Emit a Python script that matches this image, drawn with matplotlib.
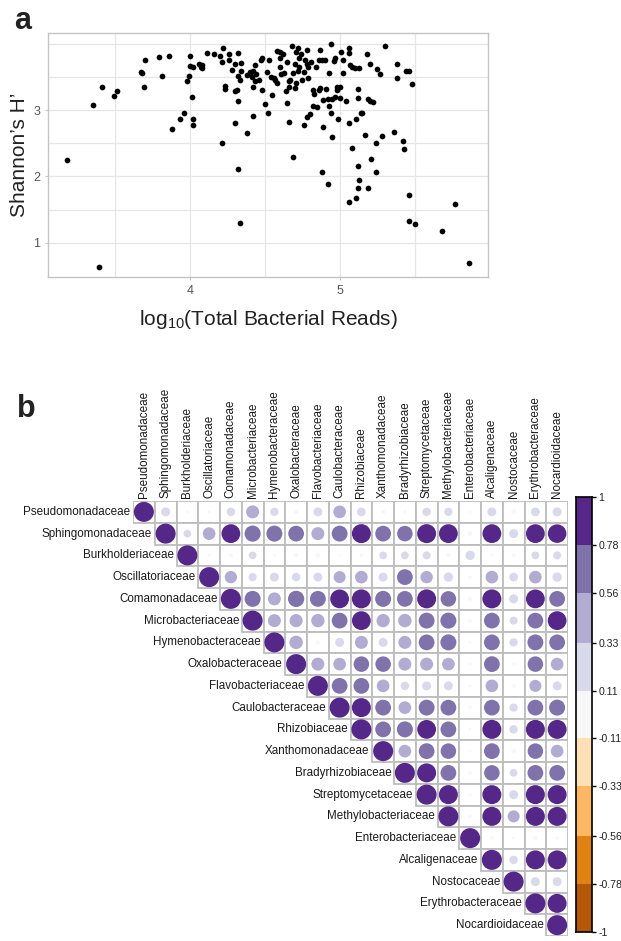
import numpy as np
import matplotlib
matplotlib.use("Agg")
import matplotlib.pyplot as plt
from matplotlib.patches import Circle, Rectangle
from matplotlib.colors import ListedColormap, BoundaryNorm

plt.rcParams['font.family'] = ['Liberation Sans', 'DejaVu Sans']
plt.rcParams['mathtext.default'] = 'regular'

FIG_W, FIG_H = 621, 941

# panel a: shannon diversity vs sequencing depth
LOG_READS = [
    3.18, 3.39, 3.35, 3.41, 3.49, 3.51, 3.67, 3.68, 3.70, 3.69, 3.79, 3.81, 3.86, 3.88,
    3.93, 3.96, 3.98, 3.99, 4.00, 4.00, 4.01, 4.02, 4.02, 4.02, 4.06, 4.07, 4.08, 4.08,
    4.11, 4.16, 4.20, 4.21, 4.22, 4.23, 4.23, 4.21, 4.26, 4.26, 4.28, 4.30, 4.30, 4.31,
    4.30, 4.32, 4.32, 4.32, 4.33, 4.32, 4.34, 4.34, 4.33, 4.38, 4.38, 4.40, 4.40, 4.42,
    4.41, 4.42, 4.42, 4.43, 4.43, 4.44, 4.46, 4.47, 4.48, 4.48, 4.50, 4.51, 4.52, 4.53,
    4.54, 4.55, 4.56, 4.57, 4.58, 4.58, 4.60, 4.60, 4.60, 4.61, 4.62, 4.63, 4.64, 4.65,
    4.65, 4.66, 4.66, 4.66, 4.67, 4.68, 4.69, 4.69, 4.70, 4.70, 4.71, 4.71, 4.72, 4.72,
    4.73, 4.73, 4.74, 4.75, 4.76, 4.76, 4.77, 4.78, 4.78, 4.78, 4.79, 4.79, 4.80, 4.81,
    4.82, 4.82, 4.83, 4.84, 4.85, 4.86, 4.86, 4.87, 4.87, 4.88, 4.88, 4.89, 4.89, 4.90,
    4.91, 4.92, 4.92, 4.93, 4.93, 4.94, 4.94, 4.95, 4.95, 4.96, 4.97, 4.97, 4.98, 4.98,
    4.99, 5.00, 5.00, 5.01, 5.02, 5.02, 5.04, 5.06, 5.06, 5.06, 5.06, 5.07, 5.08, 5.08,
    5.10, 5.11, 5.11, 5.12, 5.12, 5.12, 5.12, 5.13, 5.13, 5.14, 5.15, 5.17, 5.18, 5.19,
    5.19, 5.20, 5.20, 5.21, 5.22, 5.24, 5.24, 5.25, 5.27, 5.28, 5.30, 5.36, 5.38, 5.38,
    5.42, 5.43, 5.44, 5.46, 5.46, 5.46, 5.48, 5.50, 5.68, 5.77, 5.86,
]
SHANNON = [
    2.25, 0.63, 3.07, 3.35, 3.21, 3.29, 3.58, 3.56, 3.75, 3.34, 3.80, 3.51, 3.82, 2.72,
    2.86, 2.96, 3.44, 3.51, 3.67, 3.81, 3.20, 2.87, 2.78, 3.65, 3.69, 3.65, 3.63, 3.68,
    3.86, 3.85, 3.82, 3.72, 3.93, 3.31, 3.36, 2.50, 3.85, 3.75, 3.60, 3.70, 3.29, 3.30,
    2.81, 3.86, 3.14, 2.11, 1.29, 3.51, 3.71, 3.59, 3.46, 2.66, 3.53, 3.58, 3.54, 3.59,
    3.50, 3.35, 2.91, 3.44, 3.68, 3.54, 3.45, 3.76, 3.30, 3.79, 3.09, 3.58, 2.95, 3.76,
    3.50, 3.23, 3.49, 3.45, 3.89, 3.40, 3.78, 3.88, 3.65, 3.54, 3.85, 3.56, 3.29, 3.11,
    3.72, 3.43, 2.82, 3.34, 3.46, 3.96, 3.56, 2.29, 3.33, 3.70, 3.40, 3.88, 3.59, 3.93,
    3.65, 3.78, 3.85, 3.45, 3.58, 2.77, 3.75, 3.70, 3.90, 2.90, 3.49, 3.65, 2.94, 3.73,
    3.30, 3.06, 3.24, 3.65, 3.04, 3.30, 3.76, 3.90, 3.33, 3.76, 2.06, 3.15, 2.75, 3.75,
    3.31, 1.88, 3.16, 3.06, 3.56, 3.99, 2.95, 3.16, 2.60, 3.74, 3.19, 3.79, 3.30, 3.34,
    2.87, 3.35, 3.18, 3.88, 3.75, 3.56, 3.14, 2.80, 3.93, 3.86, 1.62, 3.68, 2.42, 3.65,
    3.63, 2.87, 1.67, 2.16, 3.31, 3.18, 1.83, 1.95, 3.63, 2.96, 2.96, 2.63, 3.85, 3.16,
    1.82, 3.70, 3.13, 2.26, 3.12, 2.51, 2.07, 3.62, 3.55, 2.61, 3.96, 2.67, 3.69, 3.49,
    2.54, 2.41, 3.59, 3.59, 1.72, 1.33, 3.39, 1.28, 1.18, 1.58, 0.70,
]

# panel b: correlation between bacterial families
FAMILIES = [
    "Pseudomonadaceae", "Sphingomonadaceae", "Burkholderiaceae", "Oscillatoriaceae",
    "Comamonadaceae", "Microbacteriaceae", "Hymenobacteraceae", "Oxalobacteraceae",
    "Flavobacteriaceae", "Caulobacteraceae", "Rhizobiaceae", "Xanthomonadaceae",
    "Bradyrhizobiaceae", "Streptomycetaceae", "Methylobacteriaceae", "Enterobacteriaceae",
    "Alcaligenaceae", "Nostocaceae", "Erythrobacteraceae", "Nocardioidaceae",
]
# upper triangle, row i holds the values for columns i+1 .. end
CORR_UPPER = [
    [0.20, 0.02, 0.03, 0.18, 0.42, 0.17, 0.05, 0.20, 0.40, 0.19, 0.04, 0.02, 0.18, 0.17, 0.01, 0.20, 0.06, 0.19, 0.20],
    [0.15, 0.40, 0.88, 0.65, 0.64, 0.62, 0.42, 0.63, 0.90, 0.62, 0.60, 0.90, 0.88, 0.05, 0.88, 0.20, 0.88, 0.86],
    [0.03, 0.04, 0.15, 0.02, 0.05, 0.06, 0.01, 0.03, 0.15, 0.15, 0.16, 0.05, 0.22, 0.02, 0.04, 0.15, 0.16],
    [0.38, 0.17, 0.20, 0.18, 0.20, 0.36, 0.40, 0.20, 0.62, 0.38, 0.22, 0.03, 0.40, 0.19, 0.40, 0.22],
    [0.64, 0.42, 0.66, 0.63, 0.88, 0.90, 0.64, 0.62, 0.90, 0.60, 0.04, 0.90, 0.20, 0.88, 0.62],
    [0.42, 0.43, 0.44, 0.62, 0.88, 0.44, 0.45, 0.63, 0.64, 0.03, 0.62, 0.16, 0.62, 0.88],
    [0.45, 0.04, 0.20, 0.42, 0.20, 0.42, 0.62, 0.64, 0.02, 0.62, 0.17, 0.63, 0.62],
    [0.42, 0.40, 0.60, 0.60, 0.42, 0.42, 0.40, 0.03, 0.62, 0.05, 0.60, 0.40],
    [0.62, 0.62, 0.40, 0.18, 0.20, 0.20, 0.02, 0.40, 0.04, 0.36, 0.20],
    [0.90, 0.62, 0.40, 0.63, 0.62, 0.03, 0.62, 0.17, 0.62, 0.64],
    [0.62, 0.64, 0.88, 0.62, 0.02, 0.90, 0.18, 0.90, 0.90],
    [0.40, 0.62, 0.60, 0.01, 0.62, 0.05, 0.60, 0.40],
    [0.90, 0.62, 0.03, 0.60, 0.15, 0.62, 0.62],
    [0.90, 0.02, 0.90, 0.20, 0.90, 0.90],
    [0.03, 0.90, 0.36, 0.90, 0.90],
    [0.04, 0.02, 0.05, 0.03],
    [0.18, 0.90, 0.90],
    [0.20, 0.20],
    [0.90],
    [],
]
BIN_EDGES = [-1, -0.78, -0.56, -0.33, -0.11, 0.11, 0.33, 0.56, 0.78, 1]
BIN_COLORS = ["#B35806", "#E08214", "#FDB863", "#FEE0B6", "#F7F7F7",
              "#D8DAEB", "#B2ABD2", "#8073AC", "#542788"]
CBAR_LABELS = ["-1", "-0.78", "-0.56", "-0.33", "-0.11",
               "0.11", "0.33", "0.56", "0.78", "1"]


def px_box(left, top, right, bottom):
    # pixel box -> figure fraction [l, b, w, h]
    return [left / FIG_W, 1 - bottom / FIG_H, (right - left) / FIG_W, (bottom - top) / FIG_H]


fig = plt.figure(figsize=(FIG_W / 100, FIG_H / 100), dpi=100)

# ---- panel a
ax = fig.add_axes(px_box(48, 33, 488, 277))
ax.scatter(LOG_READS, SHANNON, s=17, c="black", linewidths=0, zorder=3)
ax.set_xlim(3.053, 5.987)
ax.set_ylim(0.483, 4.161)
ax.set_xticks([4, 5])
ax.set_xticks([3.5, 4.5, 5.5], minor=True)
ax.set_yticks([1, 2, 3])
ax.set_yticks([1.5, 2.5, 3.5, 4.0], minor=True)
ax.grid(True, which="both", color="#E6E6E6", linewidth=0.9, zorder=0)
ax.set_axisbelow(True)
for s in ax.spines.values():
    s.set_color("#C4C4C4")
    s.set_linewidth(1.0)
ax.tick_params(which="major", length=2.5, color="#C4C4C4", labelsize=9, labelcolor="#555555", pad=3)
ax.tick_params(which="minor", length=0)
ax.set_xlabel(r"log$_{10}$(Total Bacterial Reads)", fontsize=15, color="#222222", labelpad=8)
ax.set_ylabel("Shannon\u2019s H\u2019", fontsize=15, color="#222222", labelpad=3)

fig.text(14 / FIG_W, 1 - 29 / FIG_H, "a", fontsize=22, fontweight="bold", color="#222222")
fig.text(17 / FIG_W, 1 - 417 / FIG_H, "b", fontsize=22, fontweight="bold", color="#222222")

# ---- panel b
n = len(FAMILIES)
corr = np.eye(n)
for i, row in enumerate(CORR_UPPER):
    corr[i, i + 1:] = row

cmap = ListedColormap(BIN_COLORS)
norm = BoundaryNorm(BIN_EDGES, cmap.N)

axc = fig.add_axes(px_box(133, 501, 568, 936))
axc.set_xlim(-0.5, n - 0.5)
axc.set_ylim(n - 0.5, -0.5)
axc.set_aspect("equal")
axc.axis("off")

for i in range(n):
    for j in range(i, n):
        axc.add_patch(Rectangle((j - 0.5, i - 0.5), 1, 1, facecolor="white",
                                edgecolor="#BDBDBD", linewidth=1.3, zorder=1))
        r = corr[i, j]
        axc.add_patch(Circle((j, i), 0.46 * np.sqrt(abs(r)), facecolor=cmap(norm(r)),
                             edgecolor="none", zorder=2))

for k, name in enumerate(FAMILIES):
    axc.text(k - 0.62, k, name, ha="right", va="center", fontsize=8.4, color="#1A1A1A")
    axc.text(k, -0.62, name, ha="center", va="bottom", rotation=90, fontsize=8.4, color="#1A1A1A")

# colour key
axk = fig.add_axes(px_box(576, 497, 592, 932))
axk.pcolormesh([0, 1], BIN_EDGES, np.array(BIN_EDGES[:-1]).reshape(-1, 1) + 0.01,
               cmap=cmap, norm=norm, shading="flat")
axk.set_xlim(0, 1)
axk.set_ylim(-1, 1)
axk.set_xticks([])
axk.yaxis.tick_right()
axk.set_yticks(BIN_EDGES)
axk.set_yticklabels(CBAR_LABELS)
axk.tick_params(axis="y", length=3, width=1, color="black", labelsize=7.6, labelcolor="#222222", pad=1.5)
for s in axk.spines.values():
    s.set_color("black")
    s.set_linewidth(1.2)

fig.savefig("out.png", dpi=100)
